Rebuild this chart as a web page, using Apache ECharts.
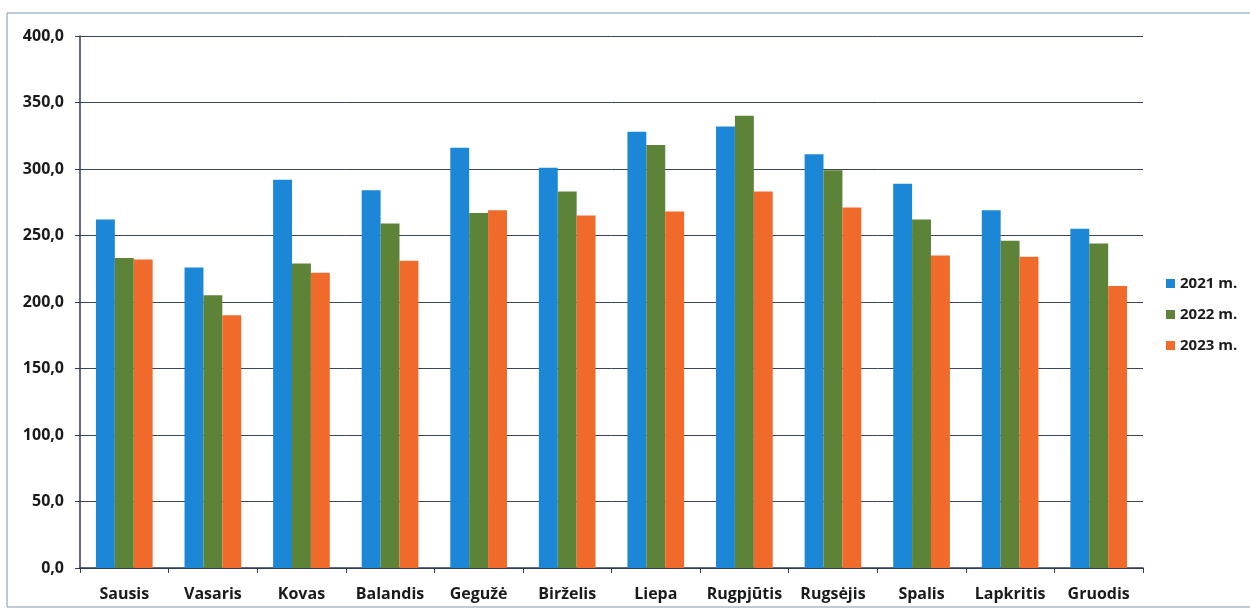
<!DOCTYPE html>
<html>
<head>
<meta charset="utf-8">
<script src="https://cdn.jsdelivr.net/npm/echarts@6/dist/echarts.min.js"></script>
<style>
html,body{margin:0;padding:0;background:#fff;}
#c{width:1250px;height:610px;}
</style>
</head>
<body>
<div id="c"></div>
<script>
const categories = ['Sausis','Vasaris','Kovas','Balandis','Gegužė','Birželis','Liepa','Rugpjūtis','Rugsėjis','Spalis','Lapkritis','Gruodis'];
const seriesNames = ['2021 m.','2022 m.','2023 m.'];
const values2021 = [262, 226, 292, 284, 316, 301, 328, 332, 311, 289, 269, 255];
const values2022 = [233, 205, 229, 259, 267, 283, 318, 340, 299, 262, 246, 244];
const values2023 = [232, 190, 222, 231, 269, 265, 268, 283, 271, 235, 234, 212];
const yTicks = [0, 50, 100, 150, 200, 250, 300, 350, 400];

const colors = ['#1D87D7', '#5C8338', '#F06A2C'];
const chart = echarts.init(document.getElementById('c'));
const labelFont = {fontFamily: 'Open Sans', fontWeight: 'bold', fontSize: 16, color: '#1a1a1a'};
chart.setOption({
  animation: false,
  color: colors,
  graphic: [{
    type: 'rect', shape: {x: 7, y: 13, width: 1260, height: 594},
    style: {fill: 'none', stroke: '#8095b0', lineWidth: 1}, silent: true
  }],
  legend: {
    orient: 'vertical', left: 1161, top: 271, itemGap: 16,
    itemWidth: 9, itemHeight: 9, icon: 'rect',
    textStyle: {fontFamily: 'Open Sans', fontWeight: 'bold', fontSize: 15, color: '#1a1a1a', padding: [2, 0, 2, 0]},
    data: seriesNames
  },
  grid: {left: 80, right: 107, top: 36, bottom: 42},
  xAxis: {
    type: 'category', data: categories,
    axisLine: {lineStyle: {color: '#2d3b57', width: 1.5}},
    axisTick: {show: true, length: 5, interval: 0, lineStyle: {color: '#2d3b57'}},
    axisLabel: Object.assign({margin: 18, interval: 0}, labelFont)
  },
  yAxis: {
    type: 'value', min: yTicks[0], max: yTicks[yTicks.length - 1], interval: 50,
    axisLine: {show: true, lineStyle: {color: '#2d3b57', width: 1.5}},
    axisTick: {show: true, length: 5, lineStyle: {color: '#2d3b57'}},
    splitLine: {lineStyle: {color: '#3c4455', width: 1}},
    axisLabel: Object.assign({margin: 16, formatter: v => v.toFixed(1).replace('.', ',')}, labelFont)
  },
  series: [
    {name: seriesNames[0], type: 'bar', data: values2021, barGap: '0%', barCategoryGap: '36%'},
    {name: seriesNames[1], type: 'bar', data: values2022, barGap: '0%', barCategoryGap: '36%'},
    {name: seriesNames[2], type: 'bar', data: values2023, barGap: '0%', barCategoryGap: '36%'}
  ]
});
</script>
</body>
</html>
